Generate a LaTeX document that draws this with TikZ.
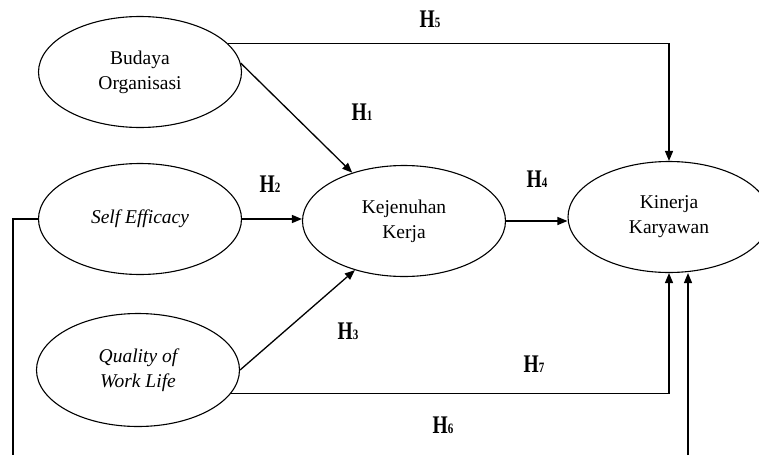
\documentclass[tikz,border=0pt]{standalone}
\usepackage{fontspec}
\usepackage{graphicx}
\setmainfont{Liberation Serif}
\usetikzlibrary{shapes.geometric,arrows.meta,calc}
\newcommand\hlabel[1]{\scalebox{1}[1.3]{\textbf{H}{\fontsize{11}{11}\selectfont\textbf{#1}}}}
\begin{document}
\begin{tikzpicture}[x=1pt,y=-1pt,
  var/.style={ellipse,draw,line width=1.1pt,inner sep=0pt,align=center,
    minimum width=203pt,minimum height=111pt,
    font=\fontsize{19.5}{25}\selectfont},
  arr/.style={line width=1.3pt,-{Triangle[length=10pt,width=8pt]}},
  ln/.style={line width=1.3pt},
  hyp/.style={inner sep=0pt,font=\fontsize{19.5}{20}\selectfont}]
\useasboundingbox (0,0) rectangle (759,455);
% variables
\node[var] (bud) at (140,72)  {Budaya\\Organisasi};
\node[var] (se)  at (140,219) {\itshape Self Efficacy};
\node[var,minimum height=113pt] (qwl) at (138,370) {\itshape Quality of\\\itshape Work Life};
\node[var] (kej) at (404,221) {Kejenuhan\\Kerja};
\node[var,minimum width=202pt] (kin) at (669,217) {Kinerja\\Karyawan};
% free ends at the lower edge
\coordinate (lb) at (13,455);
\coordinate (rb) at (688,455);
% connectors
\draw[arr] (bud.18) -| (kin.north);
\draw[arr] (bud.5) -- (kej.137);
\draw[arr] (se.east) -- (se.east -| kej.west);
\draw[arr] (kej.east) -- (kej.east -| kin.west);
\draw[arr] (qwl.east) -- (kej.225);
\draw[arr] (qwl.-14) -| (kin.south);
\draw[ln] (se.west) -| (lb);
\draw[arr] (rb) -- (rb |- kin.south);
% labels
\node[hyp] (h5) at (430,19)  {\hlabel{5}};
\node[hyp] (h1) at (362,112) {\hlabel{1}};
\node[hyp] (h2) at (270,184) {\hlabel{2}};
\node[hyp] (h4) at (537,179) {\hlabel{4}};
\node[hyp] (h3) at (348,331) {\hlabel{3}};
\node[hyp] (h7) at (534,364) {\hlabel{7}};
\node[hyp] (h6) at (443,425) {\hlabel{6}};
\end{tikzpicture}
\end{document}
